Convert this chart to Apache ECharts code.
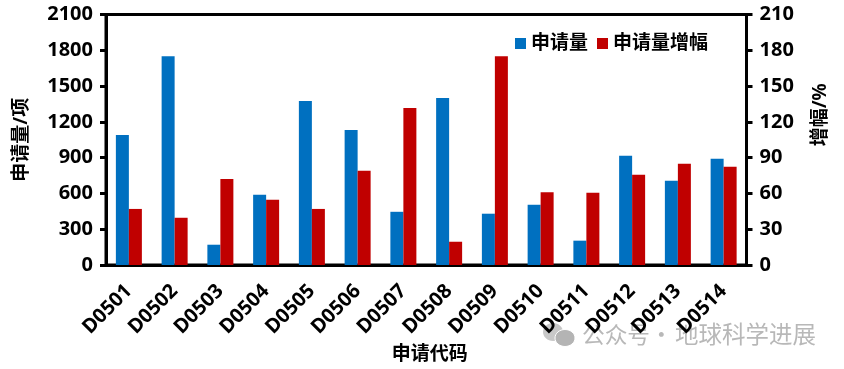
<!DOCTYPE html>
<html><head><meta charset="utf-8">
<style>html,body{margin:0;padding:0;background:#fff}#c{width:844px;height:369px}</style>
<script src="https://cdn.jsdelivr.net/npm/echarts@6/dist/echarts.min.js"></script>
</head><body><div id="c"></div>
<script>
const categories=['D0501','D0502','D0503','D0504','D0505','D0506','D0507','D0508','D0509','D0510','D0511','D0512','D0513','D0514'];
const applications=[1090,1751,170,588,1375,1132,446,1400,430,505,204,915,706,890];
const growth=[47,39.6,72,54.7,47,79,131.6,19.5,175,61,60.5,75.6,84.8,82.3];
const leftTicksMax=2100, rightTicksMax=210;
const FF='"Noto Sans","Noto Sans CJK SC",sans-serif';
const chart=echarts.init(document.getElementById('c'),null,{renderer:'canvas'});
const lineStyle={color:'#000',width:3};
const plain=v=>String(v);
chart.setOption({
  animation:false,
  backgroundColor:'#fff',
  textStyle:{fontFamily:FF},
  grid:{left:106,right:97.5,top:14.5,bottom:104,show:true,borderColor:'#000',borderWidth:3,containLabel:false,outerBoundsMode:'none'},
  legend:{top:29,left:510,itemWidth:11,itemHeight:11,itemGap:9,icon:'rect',
    textStyle:{fontSize:19,fontWeight:'bold',color:'#000',fontFamily:FF},
    data:['申请量','申请量增幅']},
  xAxis:{type:'category',data:categories,
    name:'申请代码',nameLocation:'middle',nameGap:75,
    nameTextStyle:{fontSize:19,fontWeight:'bold',color:'#000',fontFamily:FF,padding:[0,0,0,7]},
    axisLine:{lineStyle},axisTick:{show:false},
    axisLabel:{rotate:45,interval:0,margin:23,fontSize:20,fontWeight:'bold',color:'#000',fontFamily:FF}},
  yAxis:[
    {type:'value',min:0,max:leftTicksMax,interval:300,name:'申请量/项',nameLocation:'middle',nameGap:75,
     nameTextStyle:{fontSize:19,fontWeight:'bold',color:'#000',fontFamily:FF},
     axisLine:{show:true,lineStyle},axisTick:{show:true,length:6,lineStyle},splitLine:{show:false},
     axisLabel:{margin:13,fontSize:20,fontWeight:'bold',color:'#000',fontFamily:FF,formatter:plain}},
    {type:'value',min:0,max:rightTicksMax,interval:30,name:'增幅/%',nameLocation:'middle',nameGap:65,
     nameTextStyle:{fontSize:19,fontWeight:'bold',color:'#000',fontFamily:FF,padding:[0,0,0,50]},
     axisLine:{show:true,lineStyle},axisTick:{show:true,length:6,lineStyle},splitLine:{show:false},
     axisLabel:{margin:13,fontSize:20,fontWeight:'bold',color:'#000',fontFamily:FF,formatter:plain}}
  ],
  series:[
    {name:'申请量',type:'bar',yAxisIndex:0,data:applications,barWidth:13,barGap:'0%',itemStyle:{color:'#0070C0'}},
    {name:'申请量增幅',type:'bar',yAxisIndex:1,data:growth,barWidth:13,barGap:'0%',itemStyle:{color:'#C00000'}}
  ],
  graphic:[
    {type:'ellipse',z:0,shape:{cx:553,cy:332,rx:10,ry:9},style:{fill:'#c8c8c8'}},
    {type:'ellipse',z:0,shape:{cx:565,cy:338,rx:10,ry:8.5},style:{fill:'#b4b4b4',stroke:'#fff',lineWidth:1}},
    {type:'text',z:0,x:582,y:323,style:{text:'公众号',fill:'#b8b8b8',fontSize:22.7,fontFamily:'"Noto Sans CJK SC",sans-serif'}},
    {type:'text',z:0,x:650,y:323,style:{text:'·',fill:'#b8b8b8',fontSize:22.7,fontFamily:'"Noto Sans CJK SC",sans-serif'}},
    {type:'text',z:0,x:675,y:322,style:{text:'地球科学进展',fill:'#b8b8b8',fontSize:23.5,fontFamily:'"Noto Sans CJK SC",sans-serif'}}
  ]
});
</script></body></html>
